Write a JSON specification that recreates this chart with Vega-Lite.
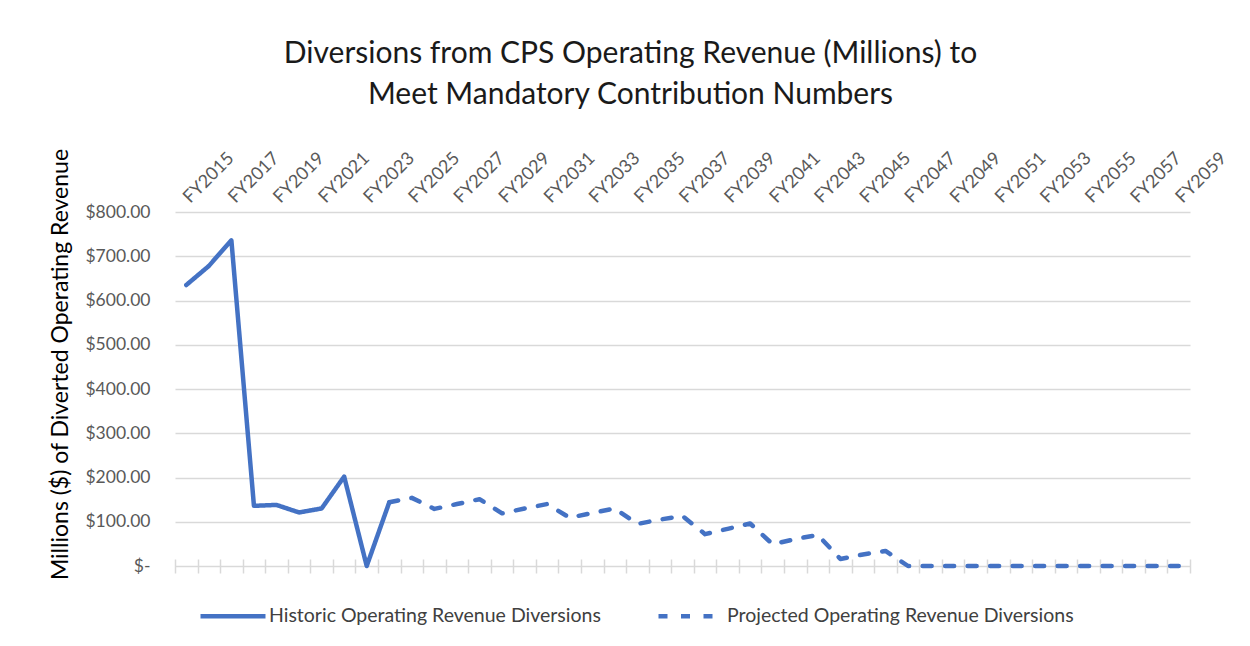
{
  "$schema": "https://vega.github.io/schema/vega-lite/v6.json",
  "width": 1015,
  "height": 354,
  "autosize": "none",
  "padding": {"left": 175, "top": 212, "right": 60, "bottom": 80},
  "background": "white",
  "config": {"font": "Lato", "view": {"stroke": null}},
  "title": {
    "text": ["Diversions from CPS Operating Revenue (Millions) to", "Meet Mandatory Contribution Numbers"],
    "fontSize": 30,
    "font": "Lato",
    "fontWeight": "normal",
    "color": "#1a1a1a",
    "lineHeight": 41,
    "anchor": "middle",
    "dx": -52,
    "offset": 38
  },
  "data": {
    "values": [
      {"fy": 2015, "value": 635, "series": "Historic Operating Revenue Diversions"},
      {"fy": 2016, "value": 678, "series": "Historic Operating Revenue Diversions"},
      {"fy": 2017, "value": 736, "series": "Historic Operating Revenue Diversions"},
      {"fy": 2018, "value": 136, "series": "Historic Operating Revenue Diversions"},
      {"fy": 2019, "value": 138, "series": "Historic Operating Revenue Diversions"},
      {"fy": 2020, "value": 121, "series": "Historic Operating Revenue Diversions"},
      {"fy": 2021, "value": 130, "series": "Historic Operating Revenue Diversions"},
      {"fy": 2022, "value": 202, "series": "Historic Operating Revenue Diversions"},
      {"fy": 2023, "value": 0, "series": "Historic Operating Revenue Diversions"},
      {"fy": 2024, "value": 144, "series": "Historic Operating Revenue Diversions"},
      {"fy": 2024, "value": 144, "series": "Projected Operating Revenue Diversions"},
      {"fy": 2025, "value": 154, "series": "Projected Operating Revenue Diversions"},
      {"fy": 2026, "value": 129, "series": "Projected Operating Revenue Diversions"},
      {"fy": 2027, "value": 140, "series": "Projected Operating Revenue Diversions"},
      {"fy": 2028, "value": 151, "series": "Projected Operating Revenue Diversions"},
      {"fy": 2029, "value": 119, "series": "Projected Operating Revenue Diversions"},
      {"fy": 2030, "value": 130, "series": "Projected Operating Revenue Diversions"},
      {"fy": 2031, "value": 140, "series": "Projected Operating Revenue Diversions"},
      {"fy": 2032, "value": 109, "series": "Projected Operating Revenue Diversions"},
      {"fy": 2033, "value": 120, "series": "Projected Operating Revenue Diversions"},
      {"fy": 2034, "value": 130, "series": "Projected Operating Revenue Diversions"},
      {"fy": 2035, "value": 95, "series": "Projected Operating Revenue Diversions"},
      {"fy": 2036, "value": 105, "series": "Projected Operating Revenue Diversions"},
      {"fy": 2037, "value": 113, "series": "Projected Operating Revenue Diversions"},
      {"fy": 2038, "value": 72, "series": "Projected Operating Revenue Diversions"},
      {"fy": 2039, "value": 84, "series": "Projected Operating Revenue Diversions"},
      {"fy": 2040, "value": 96, "series": "Projected Operating Revenue Diversions"},
      {"fy": 2041, "value": 49, "series": "Projected Operating Revenue Diversions"},
      {"fy": 2042, "value": 61, "series": "Projected Operating Revenue Diversions"},
      {"fy": 2043, "value": 70, "series": "Projected Operating Revenue Diversions"},
      {"fy": 2044, "value": 16, "series": "Projected Operating Revenue Diversions"},
      {"fy": 2045, "value": 26, "series": "Projected Operating Revenue Diversions"},
      {"fy": 2046, "value": 34, "series": "Projected Operating Revenue Diversions"},
      {"fy": 2047, "value": 0, "series": "Projected Operating Revenue Diversions"},
      {"fy": 2048, "value": 0, "series": "Projected Operating Revenue Diversions"},
      {"fy": 2049, "value": 0, "series": "Projected Operating Revenue Diversions"},
      {"fy": 2050, "value": 0, "series": "Projected Operating Revenue Diversions"},
      {"fy": 2051, "value": 0, "series": "Projected Operating Revenue Diversions"},
      {"fy": 2052, "value": 0, "series": "Projected Operating Revenue Diversions"},
      {"fy": 2053, "value": 0, "series": "Projected Operating Revenue Diversions"},
      {"fy": 2054, "value": 0, "series": "Projected Operating Revenue Diversions"},
      {"fy": 2055, "value": 0, "series": "Projected Operating Revenue Diversions"},
      {"fy": 2056, "value": 0, "series": "Projected Operating Revenue Diversions"},
      {"fy": 2057, "value": 0, "series": "Projected Operating Revenue Diversions"},
      {"fy": 2058, "value": 0, "series": "Projected Operating Revenue Diversions"},
      {"fy": 2059, "value": 0, "series": "Projected Operating Revenue Diversions"}
    ]
  },
  "layer": [
    {
      "mark": {"type": "line", "strokeWidth": 4.5, "strokeCap": "round", "strokeJoin": "round"},
      "encoding": {
        "x": {
          "field": "fy",
          "type": "quantitative",
          "scale": {"domain": [2014.5, 2059.5], "nice": false, "zero": false},
          "axis": {
            "orient": "bottom",
            "title": null,
            "values": [2014.5, 2015.5, 2016.5, 2017.5, 2018.5, 2019.5, 2020.5, 2021.5, 2022.5, 2023.5, 2024.5, 2025.5, 2026.5, 2027.5, 2028.5, 2029.5, 2030.5, 2031.5, 2032.5, 2033.5, 2034.5, 2035.5, 2036.5, 2037.5, 2038.5, 2039.5, 2040.5, 2041.5, 2042.5, 2043.5, 2044.5, 2045.5, 2046.5, 2047.5, 2048.5, 2049.5, 2050.5, 2051.5, 2052.5, 2053.5, 2054.5, 2055.5, 2056.5, 2057.5, 2058.5, 2059.5],
            "labels": false,
            "domain": false,
            "grid": false,
            "ticks": true,
            "tickSize": 14,
            "offset": -7,
            "tickColor": "#d9d9d9",
            "tickWidth": 1.5
          }
        },
        "y": {
          "field": "value",
          "type": "quantitative",
          "scale": {"domain": [0, 800], "nice": false},
          "axis": {
            "title": "Millions ($) of Diverted Operating Revenue",
            "values": [0, 100, 200, 300, 400, 500, 600, 700, 800],
            "domain": false,
            "ticks": false,
            "labelPadding": 25,
            "labelFontSize": 17.5,
            "labelFont": "Lato",
            "labelColor": "#595959",
            "labelExpr": "datum.value == 0 ? '$-' : '$' + format(datum.value, '.2f')",
            "gridColor": "#d9d9d9",
            "gridWidth": 1.5,
            "titleFontSize": 23,
            "titleFont": "Lato",
            "titleColor": "#000000",
            "titleFontWeight": "normal",
            "titlePadding": 12,
            "titleY": 152
          }
        },
        "color": {
          "field": "series",
          "type": "nominal",
          "scale": {"range": ["#4472C4", "#4472C4"]},
          "legend": {
            "title": null,
            "orient": "none",
            "legendX": 23,
            "legendY": 369,
            "direction": "horizontal",
            "symbolType": "stroke",
            "symbolSize": 4225,
            "symbolStrokeWidth": 4.5,
            "labelFontSize": 19.5,
            "labelFont": "Lato",
            "labelColor": "#404040",
            "labelOffset": 1,
            "labelLimit": 0,
            "columnPadding": 48
          }
        },
        "strokeDash": {
          "field": "series",
          "type": "nominal",
          "scale": {"range": [[1, 0], [9, 13.5]]},
          "legend": {
            "title": null,
            "orient": "none",
            "legendX": 23,
            "legendY": 369,
            "direction": "horizontal",
            "symbolType": "stroke",
            "symbolSize": 4225,
            "symbolStrokeWidth": 4.5,
            "labelFontSize": 19.5,
            "labelFont": "Lato",
            "labelColor": "#404040",
            "labelOffset": 1,
            "labelLimit": 0,
            "columnPadding": 48
          }
        }
      }
    },
    {
      "mark": {"type": "point", "opacity": 0},
      "encoding": {
        "x": {
          "field": "fy",
          "type": "quantitative",
          "scale": {"domain": [2014.5, 2059.5], "nice": false, "zero": false},
          "axis": {
            "orient": "top",
            "title": null,
            "values": [2015, 2017, 2019, 2021, 2023, 2025, 2027, 2029, 2031, 2033, 2035, 2037, 2039, 2041, 2043, 2045, 2047, 2049, 2051, 2053, 2055, 2057, 2059],
            "labelExpr": "'FY' + datum.value",
            "labelAngle": -45,
            "labelAlign": "left",
            "labelBaseline": "middle",
            "labelFontSize": 18,
            "labelFont": "Lato",
            "labelColor": "#595959",
            "labelPadding": 12,
            "domain": false,
            "ticks": false,
            "tickSize": 0,
            "grid": false,
            "labelOverlap": false
          }
        },
        "y": {"field": "value", "type": "quantitative", "scale": {"domain": [0, 800], "nice": false}}
      }
    }
  ],
  "resolve": {"axis": {"x": "independent"}}
}
